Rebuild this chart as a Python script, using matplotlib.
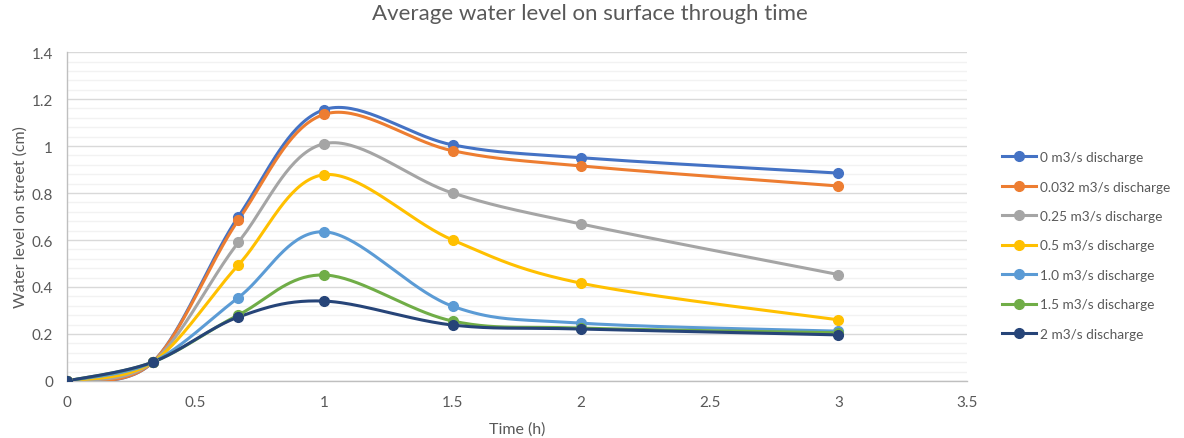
import numpy as np
import matplotlib.pyplot as plt
from matplotlib.ticker import MultipleLocator, FormatStrFormatter

plt.rcParams['font.family'] = ['Lato', 'DejaVu Sans']

# time in hours
time_h = [0, 1/3, 2/3, 1, 1.5, 2, 3]

# water level (cm) for each discharge
q_0 = [0, 0.08, 0.70, 1.155, 1.005, 0.95, 0.885]
q_0032 = [0, 0.08, 0.685, 1.135, 0.98, 0.915, 0.83]
q_025 = [0, 0.08, 0.59, 1.01, 0.80, 0.668, 0.453]
q_05 = [0, 0.08, 0.494, 0.878, 0.60, 0.416, 0.26]
q_10 = [0, 0.08, 0.355, 0.635, 0.318, 0.246, 0.212]
q_15 = [0, 0.08, 0.281, 0.451, 0.255, 0.225, 0.205]
q_2 = [0, 0.08, 0.272, 0.34, 0.238, 0.221, 0.196]

labels = ["0 m3/s discharge", "0.032 m3/s discharge", "0.25 m3/s discharge",
          "0.5 m3/s discharge", "1.0 m3/s discharge", "1.5 m3/s discharge",
          "2 m3/s discharge"]
series = [q_0, q_0032, q_025, q_05, q_10, q_15, q_2]
colors = ["#4472C4", "#ED7D31", "#A5A5A5", "#FFC000", "#5B9BD5", "#70AD47", "#264478"]


def smooth(x, y, n=40):
    # catmull-rom style bezier through the points (like spreadsheet smoothed lines)
    x = np.asarray(x, float)
    y = np.asarray(y, float)
    px = np.concatenate([[x[0]], x, [x[-1]]])
    py = np.concatenate([[y[0]], y, [y[-1]]])
    xs, ys = [], []
    t = np.linspace(0, 1, n)
    for i in range(1, len(px) - 2):
        p0 = np.array([px[i - 1], py[i - 1]])
        p1 = np.array([px[i], py[i]])
        p2 = np.array([px[i + 1], py[i + 1]])
        p3 = np.array([px[i + 2], py[i + 2]])
        c1 = p1 + (p2 - p0) / 6
        c2 = p2 - (p3 - p1) / 6
        b = ((1 - t) ** 3)[:, None] * p1 + (3 * (1 - t) ** 2 * t)[:, None] * c1 \
            + (3 * (1 - t) * t ** 2)[:, None] * c2 + (t ** 3)[:, None] * p2
        xs.extend(b[:, 0])
        ys.extend(b[:, 1])
    return np.array(xs), np.array(ys)


fig = plt.figure(figsize=(11.84, 4.39), dpi=100)
ax = fig.add_axes([0.0566, 0.13, 0.76, 0.749])

for y, c, lab in zip(series, colors, labels):
    sx, sy = smooth(time_h, y)
    ax.plot(sx, sy, color=c, lw=2.2, zorder=3)
    ax.plot(time_h, y, 'o', color=c, ms=7, zorder=4)
    ax.plot([], [], '-o', color=c, lw=2.2, ms=7, label=lab)

ax.set_xlim(0, 3.5)
ax.set_ylim(0, 1.4)
ax.xaxis.set_major_locator(MultipleLocator(0.5))
ax.yaxis.set_major_locator(MultipleLocator(0.2))
ax.yaxis.set_minor_locator(MultipleLocator(0.04))
ax.xaxis.set_major_formatter(FormatStrFormatter('%g'))
ax.yaxis.set_major_formatter(FormatStrFormatter('%g'))

ax.grid(axis='y', which='major', color='#D9D9D9', lw=1.0, zorder=0)
ax.grid(axis='y', which='minor', color='#F2F2F2', lw=1.0, zorder=0)
ax.set_axisbelow(True)

for s in ['top', 'right']:
    ax.spines[s].set_visible(False)
for s in ['left', 'bottom']:
    ax.spines[s].set_color('#BFBFBF')
    ax.spines[s].set_linewidth(1.0)

ax.tick_params(axis='both', which='both', length=0, labelsize=11, labelcolor='#595959', pad=10)

ax.set_xlabel("Time (h)", fontsize=11.5, color='#595959', labelpad=9)
ax.set_ylabel("Water level on street (cm)", fontsize=11.5, color='#595959', labelpad=3)
fig.suptitle("Average water level on surface through time", fontsize=16, color='#595959',
             x=0.498, y=0.99)

leg = ax.legend(loc='center left', bbox_to_anchor=(1.025, 0.412), frameon=False,
                fontsize=9.8, labelspacing=1.28, handlelength=2.5, handletextpad=0.3)
for t in leg.get_texts():
    t.set_color('#595959')

fig.savefig("out.png", dpi=100)
